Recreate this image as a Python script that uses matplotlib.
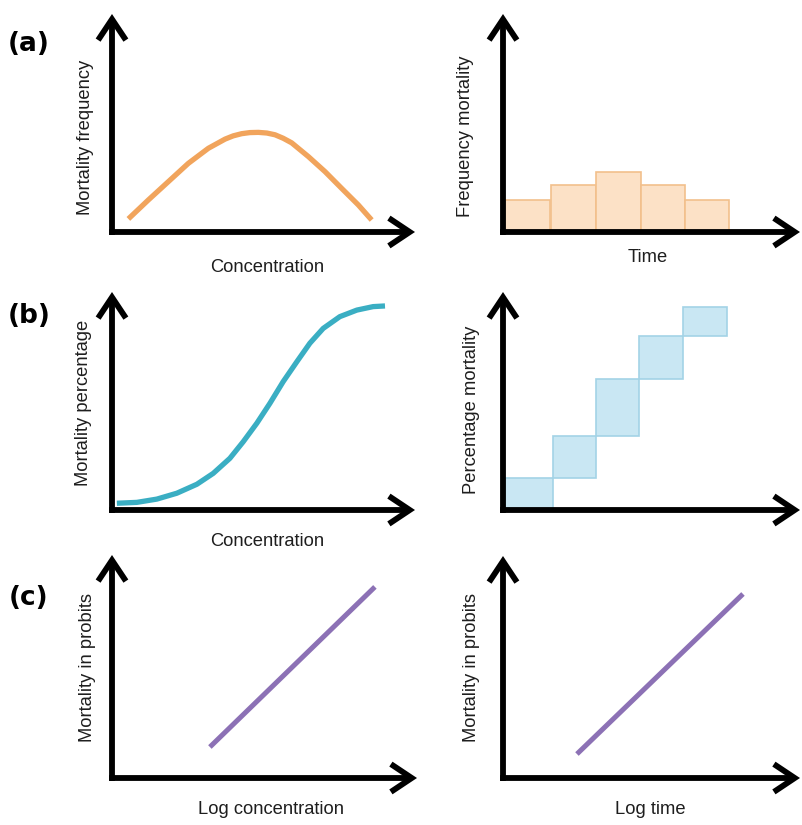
import matplotlib
matplotlib.use("Agg")
import matplotlib.pyplot as plt

# ---------------- data (axes scaled 0-100) ----------------
# (a) left: mortality frequency vs concentration (bell-shaped curve)
freq_conc_x = [5.4, 12.0, 18.6, 25.2, 31.8, 37.3, 40.0, 42.8, 45.5, 48.3, 51.1, 53.8, 56.5, 59.3, 64.8, 70.3, 75.8, 81.3, 85.7]
freq_conc_y = [6.0, 14.7, 23.1, 31.5, 38.4, 42.6, 44.1, 45.1, 45.6, 45.7, 45.4, 44.6, 43.0, 40.9, 34.6, 27.7, 20.0, 12.4, 5.5]

# (a) right: frequency mortality vs time (histogram)
time_bin_left = [0.7, 16.0, 31.2, 46.4, 61.2]
time_bin_width = [15.0, 15.2, 15.2, 14.8, 15.0]
time_freq = [14.7, 21.6, 27.5, 21.6, 14.7]

# (b) left: mortality percentage vs concentration (sigmoid)
pct_conc_x = [1.6, 8.2, 14.8, 21.4, 28.0, 33.4, 38.9, 43.3, 47.8, 52.1, 56.5, 61.0, 65.3, 69.7, 75.2, 80.8, 86.2, 90.1]
pct_conc_y = [3.1, 3.5, 5.0, 7.7, 11.8, 16.8, 23.7, 31.3, 39.8, 48.9, 58.9, 68.0, 76.5, 83.3, 88.7, 91.7, 93.3, 93.6]

# (b) right: cumulative percentage mortality vs time (steps)
step_left = [0.7, 16.8, 31.3, 45.8, 60.6]
step_width = [16.1, 14.5, 14.5, 14.8, 14.8]
step_top = [14.5, 33.8, 60.1, 79.8, 93.1]
step_bottom = [0.0, 14.5, 33.8, 60.1, 79.8]

# (c) left: probit vs log concentration
probit_conc_x = [32.1, 86.2]
probit_conc_y = [13.9, 85.7]

# (c) right: probit vs log time
probit_time_x = [24.9, 80.8]
probit_time_y = [10.8, 82.9]

panel_tags = ["(a)", "(b)", "(c)"]
ylabels = ["Mortality frequency", "Frequency mortality",
           "Mortality percentage", "Percentage mortality",
           "Mortality in probits", "Mortality in probits"]
xlabels = ["Concentration", "Time", "Concentration", "", "Log concentration", "Log time"]

# ---------------- styling ----------------
W, H = 802, 825
ORANGE = "#F1A45C"
BAR_FACE = "#FCE1C6"
BAR_EDGE = "#F2C08C"
TEAL = "#3AAEC3"
STEP_FACE = "#C9E7F3"
STEP_EDGE = "#A3D3E6"
PURPLE = "#8C71B5"
TXT = "#1E1E1E"
AX_LW = 4.2  # points

fig = plt.figure(figsize=(W / 100, H / 100), dpi=100)
fig.patch.set_facecolor("white")


def fx(x):
    return x / W


def fy(y):
    return 1 - y / H


def make_ax(ox, oy, tx, ty):
    wpx, hpx = tx - ox, oy - ty
    ax = fig.add_axes([fx(ox), fy(oy), wpx / W, hpx / H])
    ax.set_xlim(0, 100)
    ax.set_ylim(0, 100)
    ax.axis("off")
    half = AX_LW / 72 * 100 / 2  # half line width in pixels
    arrow = dict(arrowstyle="->,head_length=0.75,head_width=0.5", lw=AX_LW,
                 color="black", shrinkA=0, shrinkB=0, mutation_scale=20,
                 capstyle="butt", joinstyle="miter")
    ax.annotate("", xy=(1, 0), xytext=(-half / wpx, 0), xycoords="axes fraction",
                textcoords="axes fraction", arrowprops=arrow, annotation_clip=False)
    ax.annotate("", xy=(0, 1), xytext=(0, -half / hpx), xycoords="axes fraction",
                textcoords="axes fraction", arrowprops=arrow, annotation_clip=False)
    return ax


# panel geometry in pixels: origin x, origin y, x-arrow tip, y-arrow tip
geo = [(112, 232, 415, 14), (503, 232, 800, 14),
       (112, 510, 415, 292), (503, 510, 800, 292),
       (112, 778, 417, 555), (503, 778, 800, 556)]
axes = [make_ax(*g) for g in geo]

# (a) left
axes[0].plot(freq_conc_x, freq_conc_y, color=ORANGE, lw=3.8,
             solid_capstyle="butt", solid_joinstyle="round", clip_on=False, zorder=1)
# (a) right
axes[1].bar(time_bin_left, time_freq, width=time_bin_width, align="edge",
            color=BAR_FACE, edgecolor=BAR_EDGE, linewidth=1.2, zorder=1)
# (b) left
axes[2].plot(pct_conc_x, pct_conc_y, color=TEAL, lw=3.8,
             solid_capstyle="butt", solid_joinstyle="round", clip_on=False, zorder=1)
# (b) right
step_h = [t - b for t, b in zip(step_top, step_bottom)]
axes[3].bar(step_left, step_h, width=step_width, bottom=step_bottom, align="edge",
            color=STEP_FACE, edgecolor=STEP_EDGE, linewidth=1.2, zorder=1)
# (c)
axes[4].plot(probit_conc_x, probit_conc_y, color=PURPLE, lw=3.6,
             solid_capstyle="butt", clip_on=False, zorder=1)
axes[5].plot(probit_time_x, probit_time_y, color=PURPLE, lw=3.6,
             solid_capstyle="butt", clip_on=False, zorder=1)

# ---------------- texts ----------------
font = ["Liberation Sans", "DejaVu Sans"]
tag_pos = [(29, 44), (29, 316), (29, 598)]
for t, (x, y) in zip(panel_tags, tag_pos):
    fig.text(fx(x), fy(y), t, fontsize=19, fontweight="bold", family="DejaVu Sans",
             ha="center", va="center", color="black")

ylab_pos = [(85, 137), (466, 136), (84, 403), (471, 410), (88, 667), (471, 667)]
for t, (x, y) in zip(ylabels, ylab_pos):
    fig.text(fx(x), fy(y), t, fontsize=13.2, family=font, rotation=90,
             ha="center", va="center", color=TXT)

xlab_pos = [(267, 268), (648, 258), (267, 541), (0, 0), (271, 810), (650, 810)]
for t, (x, y) in zip(xlabels, xlab_pos):
    if t:
        fig.text(fx(x), fy(y), t, fontsize=13.2, family=font,
                 ha="center", va="center", color=TXT)

fig.savefig("out.png", dpi=100, facecolor="white")
